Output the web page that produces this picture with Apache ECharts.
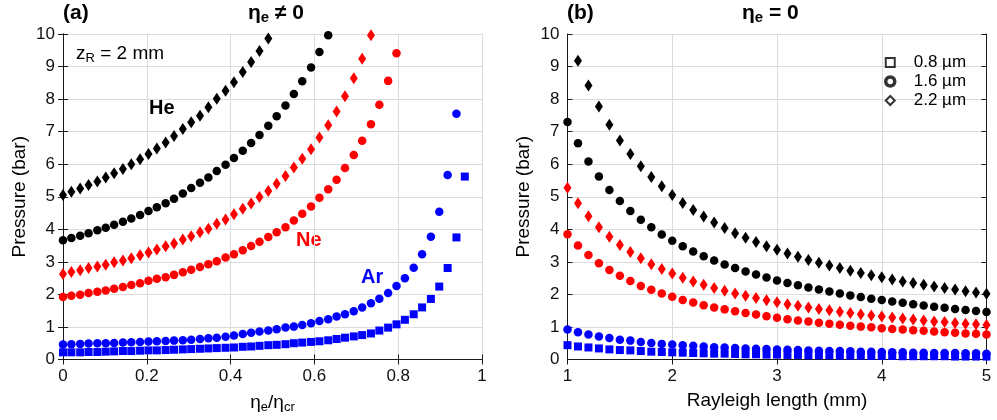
<!DOCTYPE html>
<html>
<head>
<meta charset="utf-8">
<script src="https://cdn.jsdelivr.net/npm/echarts@6/dist/echarts.min.js"></script>
<style>
  html, body { margin: 0; padding: 0; background: #fff; }
  #chart { width: 997px; height: 420px; }
</style>
</head>
<body>
<div id="chart"></div>
<script>
// ---- Panel (a): pressure vs normalised ionisation fraction, zR = 2 mm ----
const etaRatio = [0, 0.020, 0.041, 0.061, 0.082, 0.102, 0.122, 0.143, 0.163, 0.184,
  0.204, 0.224, 0.245, 0.265, 0.286, 0.306, 0.327, 0.347, 0.367, 0.388,
  0.408, 0.429, 0.449, 0.469, 0.490, 0.510, 0.531, 0.551, 0.571, 0.592,
  0.612, 0.633, 0.653, 0.673, 0.694, 0.714, 0.735, 0.755, 0.776, 0.796,
  0.816, 0.837, 0.857, 0.878, 0.898, 0.918, 0.939, 0.959];

// He
const heDiamond = [5.05, 5.15, 5.25, 5.36, 5.47, 5.59, 5.72, 5.85, 6.00, 6.15,
  6.31, 6.48, 6.67, 6.87, 7.08, 7.29, 7.49, 7.75, 8.01, 8.26,
  8.52, 8.83, 9.14, 9.48, 9.86];
const heCircle = [3.66, 3.73, 3.80, 3.88, 3.97, 4.05, 4.14, 4.23, 4.33, 4.44,
  4.56, 4.68, 4.80, 4.94, 5.10, 5.27, 5.43, 5.59, 5.79, 5.98,
  6.19, 6.41, 6.65, 6.90, 7.18, 7.47, 7.80, 8.16, 8.55, 8.97,
  9.45, 9.96];
// Ne
const neDiamond = [2.63, 2.69, 2.74, 2.81, 2.86, 2.91, 2.99, 3.04, 3.11, 3.20,
  3.29, 3.38, 3.48, 3.56, 3.69, 3.79, 3.91, 4.02, 4.17, 4.30,
  4.46, 4.63, 4.79, 4.99, 5.18, 5.40, 5.64, 5.90, 6.17, 6.46,
  6.82, 7.20, 7.62, 8.09, 8.64, 9.24, 9.96];
const neCircle = [1.92, 1.96, 1.99, 2.04, 2.08, 2.12, 2.17, 2.23, 2.29, 2.34,
  2.42, 2.48, 2.53, 2.60, 2.68, 2.76, 2.84, 2.93, 3.02, 3.13,
  3.23, 3.36, 3.49, 3.62, 3.76, 3.91, 4.06, 4.27, 4.48, 4.70,
  4.97, 5.23, 5.52, 5.88, 6.28, 6.72, 7.23, 7.83, 8.56, 9.41];
// Ar
const arCircle = [0.46, 0.47, 0.48, 0.49, 0.50, 0.50, 0.51, 0.52, 0.53, 0.54,
  0.55, 0.56, 0.57, 0.58, 0.59, 0.61, 0.63, 0.65, 0.67, 0.70,
  0.74, 0.78, 0.825, 0.86, 0.89, 0.93, 0.98, 1.01, 1.06, 1.11,
  1.18, 1.24, 1.32, 1.39, 1.48, 1.60, 1.73, 1.87, 2.04, 2.26,
  2.50, 2.82, 3.23, 3.77, 4.54, 5.67, 7.55];
const arSquare = [0.22, 0.22, 0.22, 0.23, 0.23, 0.24, 0.25, 0.26, 0.26, 0.27,
  0.28, 0.28, 0.29, 0.30, 0.31, 0.32, 0.33, 0.34, 0.35, 0.36,
  0.37, 0.39, 0.40, 0.42, 0.44, 0.45, 0.47, 0.50, 0.52, 0.54,
  0.56, 0.59, 0.63, 0.67, 0.71, 0.75, 0.80, 0.89, 0.98, 1.08,
  1.22, 1.39, 1.60, 1.86, 2.24, 2.81, 3.75, 5.62];

// ---- Panel (b): pressure vs Rayleigh length, eta_e = 0 ----
const rayleigh = [1.0, 1.1, 1.2, 1.3, 1.4, 1.5, 1.6, 1.7, 1.8, 1.9,
  2.0, 2.1, 2.2, 2.3, 2.4, 2.5, 2.6, 2.7, 2.8, 2.9,
  3.0, 3.1, 3.2, 3.3, 3.4, 3.5, 3.6, 3.7, 3.8, 3.9,
  4.0, 4.1, 4.2, 4.3, 4.4, 4.5, 4.6, 4.7, 4.8, 4.9, 5.0];

// black diamonds start at 1.1 mm (the 1.0 mm point is above 10 bar)
const bDiamond = [null, 9.18, 8.42, 7.77, 7.21, 6.73, 6.31, 5.94, 5.61, 5.32,
  5.05, 4.81, 4.59, 4.39, 4.21, 4.04, 3.88, 3.74, 3.61, 3.48,
  3.37, 3.26, 3.16, 3.06, 2.97, 2.89, 2.81, 2.73, 2.66, 2.59,
  2.53, 2.46, 2.40, 2.35, 2.30, 2.24, 2.20, 2.15, 2.10, 2.06, 2.02];
const bCircle = [7.30, 6.64, 6.08, 5.62, 5.21, 4.87, 4.56, 4.29, 4.06, 3.84,
  3.65, 3.48, 3.32, 3.17, 3.04, 2.92, 2.81, 2.70, 2.61, 2.52,
  2.43, 2.35, 2.28, 2.21, 2.15, 2.09, 2.03, 1.97, 1.92, 1.87,
  1.83, 1.78, 1.74, 1.70, 1.66, 1.62, 1.59, 1.55, 1.52, 1.49, 1.46];
const rDiamond = [5.28, 4.80, 4.40, 4.06, 3.77, 3.52, 3.30, 3.11, 2.93, 2.78,
  2.64, 2.51, 2.40, 2.30, 2.20, 2.11, 2.03, 1.96, 1.89, 1.82,
  1.76, 1.70, 1.65, 1.60, 1.55, 1.51, 1.47, 1.43, 1.39, 1.35,
  1.32, 1.29, 1.26, 1.23, 1.20, 1.17, 1.15, 1.12, 1.10, 1.08, 1.06];
const rCircle = [3.85, 3.50, 3.21, 2.96, 2.75, 2.57, 2.41, 2.26, 2.14, 2.03,
  1.93, 1.83, 1.75, 1.67, 1.60, 1.54, 1.48, 1.43, 1.38, 1.33,
  1.28, 1.24, 1.20, 1.17, 1.13, 1.10, 1.07, 1.04, 1.01, 0.99,
  0.96, 0.94, 0.92, 0.90, 0.88, 0.86, 0.84, 0.82, 0.80, 0.79, 0.77];
const uCircle = [0.92, 0.84, 0.77, 0.71, 0.66, 0.61, 0.58, 0.54, 0.51, 0.48,
  0.46, 0.44, 0.42, 0.40, 0.38, 0.37, 0.35, 0.34, 0.33, 0.32,
  0.31, 0.30, 0.29, 0.28, 0.27, 0.26, 0.26, 0.25, 0.24, 0.24,
  0.23, 0.22, 0.22, 0.21, 0.21, 0.20, 0.20, 0.20, 0.19, 0.19, 0.18];
const uSquare = [0.44, 0.40, 0.37, 0.34, 0.31, 0.29, 0.28, 0.26, 0.24, 0.23,
  0.22, 0.21, 0.20, 0.19, 0.18, 0.18, 0.17, 0.16, 0.16, 0.15,
  0.15, 0.14, 0.14, 0.13, 0.13, 0.13, 0.12, 0.12, 0.12, 0.11,
  0.11, 0.11, 0.10, 0.10, 0.10, 0.10, 0.10, 0.09, 0.09, 0.09, 0.09];

const wavelengths = ['0.8 µm', '1.6 µm', '2.2 µm'];
const gases = ['He', 'Ne', 'Ar'];

const FONT = '"Liberation Sans", Arial, Helvetica, sans-serif';
const BLACK = '#000000', RED = '#ff0000', BLUE = '#0000ff';

function pairs(xs, ys) {
  const out = [];
  ys.forEach((y, i) => { if (y !== null) out.push([xs[i], y]); });
  return out;
}

const SUB = {
  m: { fontSize: 19, fontFamily: FONT, color: '#000', lineHeight: 22 },
  s: { fontSize: 13, fontFamily: FONT, color: '#000', lineHeight: 8, verticalAlign: 'bottom' }
};
const SUB_B = {
  m: { fontSize: 21, fontFamily: FONT, color: '#000', fontWeight: 'bold', lineHeight: 24 },
  s: { fontSize: 15, fontFamily: FONT, color: '#000', fontWeight: 'bold', lineHeight: 8, verticalAlign: 'bottom' }
};

const axisLineStyle = { show: true, lineStyle: { color: '#1a1a1a', width: 1 } };
const tickStyle = { show: true, inside: true, length: 5, lineStyle: { color: '#1a1a1a', width: 1 } };
const labelStyle = { fontSize: 17, fontFamily: FONT, color: '#111' };
const gridLine = { show: true, lineStyle: { color: '#dcdcdc', width: 1 } };

function mainX(grid, min, max, interval, name, rich) {
  return {
    gridIndex: grid, type: 'value', min, max, interval, position: 'bottom',
    axisLine: axisLineStyle, axisTick: tickStyle, splitLine: gridLine,
    axisLabel: Object.assign({ margin: 8 }, labelStyle),
    name, nameLocation: 'middle', nameGap: 32,
    nameTextStyle: rich ? { rich } : { fontSize: 19, fontFamily: FONT, color: '#000' }
  };
}
function mirrorX(grid, min, max, interval) {
  return {
    gridIndex: grid, type: 'value', min, max, interval, position: 'top',
    axisLine: axisLineStyle, axisTick: tickStyle, splitLine: { show: false },
    axisLabel: { show: false }
  };
}
function mainY(grid) {
  return {
    gridIndex: grid, type: 'value', min: 0, max: 10, interval: 1, position: 'left',
    axisLine: axisLineStyle, axisTick: tickStyle, splitLine: gridLine,
    axisLabel: Object.assign({ margin: 8 }, labelStyle),
    name: 'Pressure (bar)', nameLocation: 'middle', nameGap: 34,
    nameTextStyle: { fontSize: 19, fontFamily: FONT, color: '#000' }
  };
}
function mirrorY(grid) {
  return {
    gridIndex: grid, type: 'value', min: 0, max: 10, interval: 1, position: 'right',
    axisLine: axisLineStyle, axisTick: tickStyle, splitLine: { show: false },
    axisLabel: { show: false }
  };
}

function scatter(name, xi, yi, xs, ys, symbol, size, color) {
  return {
    name, type: 'scatter', xAxisIndex: xi, yAxisIndex: yi,
    data: pairs(xs, ys), symbol, symbolSize: size,
    itemStyle: { color, opacity: 1 }, silent: true, animation: false, z: 3
  };
}

const SQ = 8, CI = 8.5, DI = [8, 12];

const option = {
  backgroundColor: '#ffffff',
  animation: false,
  textStyle: { fontFamily: FONT },
  grid: [
    { left: 63, top: 34, width: 419, height: 325.5 },
    { left: 567.5, top: 34, width: 419, height: 325.5 }
  ],
  xAxis: [
    mainX(0, 0, 1, 0.2, '{m|η}{s|e}{m|/η}{s|cr}', SUB),
    mirrorX(0, 0, 1, 0.2),
    mainX(1, 1, 5, 1, 'Rayleigh length (mm)', null),
    mirrorX(1, 1, 5, 1)
  ],
  yAxis: [mainY(0), mirrorY(0), mainY(1), mirrorY(1)],
  legend: {
    orient: 'vertical', left: 884, top: 54,
    itemWidth: 9, itemHeight: 9, itemGap: 2, padding: 0,
    selectedMode: false,
    textStyle: { fontSize: 17, fontFamily: FONT, color: '#000', padding: [0, 0, 0, 14] },
    data: [
      { name: wavelengths[0], icon: 'rect', itemStyle: { color: '#fff', borderColor: '#000', borderWidth: 2 } },
      { name: wavelengths[1], icon: 'circle', itemStyle: { color: '#fff', borderColor: '#000', borderWidth: 3.5 } },
      { name: wavelengths[2], icon: 'diamond', itemStyle: { color: '#fff', borderColor: '#000', borderWidth: 2 } }
    ]
  },
  series: [
    // panel (a)
    scatter(gases[0] + ' 2.2', 0, 0, etaRatio, heDiamond, 'diamond', DI, BLACK),
    scatter(gases[0] + ' 1.6', 0, 0, etaRatio, heCircle, 'circle', CI, BLACK),
    scatter(gases[1] + ' 2.2', 0, 0, etaRatio, neDiamond, 'diamond', DI, RED),
    scatter(gases[1] + ' 1.6', 0, 0, etaRatio, neCircle, 'circle', CI, RED),
    scatter(gases[2] + ' 1.6', 0, 0, etaRatio, arCircle, 'circle', CI, BLUE),
    scatter(gases[2] + ' 0.8', 0, 0, etaRatio, arSquare, 'rect', SQ, BLUE),
    // panel (b)
    scatter('b He 2.2', 2, 2, rayleigh, bDiamond, 'diamond', DI, BLACK),
    scatter('b He 1.6', 2, 2, rayleigh, bCircle, 'circle', CI, BLACK),
    scatter('b Ne 2.2', 2, 2, rayleigh, rDiamond, 'diamond', DI, RED),
    scatter('b Ne 1.6', 2, 2, rayleigh, rCircle, 'circle', CI, RED),
    scatter('b Ar 1.6', 2, 2, rayleigh, uCircle, 'circle', CI, BLUE),
    scatter('b Ar 0.8', 2, 2, rayleigh, uSquare, 'rect', SQ, BLUE),
    // legend keys (open markers)
    { name: wavelengths[0], type: 'scatter', xAxisIndex: 2, yAxisIndex: 2, data: [], symbol: 'rect',
      itemStyle: { color: '#fff', borderColor: '#000', borderWidth: 2 } },
    { name: wavelengths[1], type: 'scatter', xAxisIndex: 2, yAxisIndex: 2, data: [], symbol: 'circle',
      itemStyle: { color: '#fff', borderColor: '#000', borderWidth: 3.5 } },
    { name: wavelengths[2], type: 'scatter', xAxisIndex: 2, yAxisIndex: 2, data: [], symbol: 'diamond',
      itemStyle: { color: '#fff', borderColor: '#000', borderWidth: 2 } }
  ],
  graphic: [
    { type: 'text', left: 63, top: 3, style: { text: '(a)', font: 'bold 21px ' + FONT, fill: '#000' } },
    { type: 'text', left: 567, top: 3, style: { text: '(b)', font: 'bold 21px ' + FONT, fill: '#000' } },
    { type: 'text', left: 248, top: 3, style: { text: '{m|η}{s|e}{m| ≠ 0}', rich: SUB_B } },
    { type: 'text', left: 742, top: 3, style: { text: '{m|η}{s|e}{m| = 0}', rich: SUB_B } },
    { type: 'text', left: 76, top: 44, style: { text: '{m|z}{s|R}{m| = 2 mm}', rich: SUB } },
    { type: 'text', left: 149, top: 98, style: { text: gases[0], font: 'bold 20px ' + FONT, fill: BLACK } },
    { type: 'text', left: 296, top: 230, style: { text: gases[1], font: 'bold 20px ' + FONT, fill: RED } },
    { type: 'text', left: 361, top: 267, style: { text: gases[2], font: 'bold 20px ' + FONT, fill: BLUE } }
  ]
};

const chart = echarts.init(document.getElementById('chart'), null, { renderer: 'canvas' });
chart.setOption(option);
</script>
</body>
</html>
